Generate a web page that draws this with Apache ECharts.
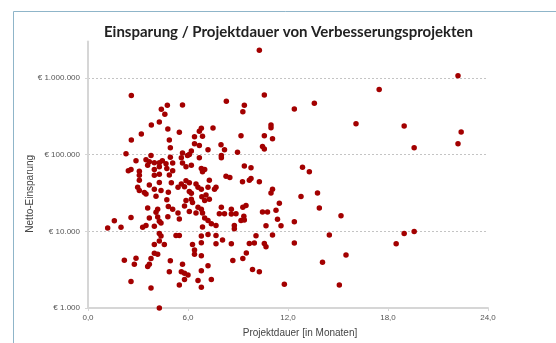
<!DOCTYPE html>
<html>
<head>
<meta charset="utf-8">
<script src="https://cdn.jsdelivr.net/npm/echarts@6/dist/echarts.min.js"></script>
<style>
  html, body { margin: 0; padding: 0; background: #ffffff; }
  #chart { width: 556px; height: 343px; }
</style>
</head>
<body>
<div id="chart"></div>
<script>
// Projektdauer in Monaten je Verbesserungsprojekt
const dauerMonate = [
  10.28, 22.2, 17.47, 2.6, 10.58, 8.3, 9.38, 4.76, 5.67, 13.58,
  12.38, 9.29, 4.4, 4.61, 4.28, 3.8, 16.08, 18.97, 10.98, 10.98,
  4.79, 3.2, 5.48, 6.8, 6.68, 7.5, 22.39, 2.6, 4.88, 6.39,
  6.87, 9.18, 10.58, 11.07, 22.2, 19.57, 6.39, 6.68, 7.98, 4.94,
  10.47, 10.58, 8.97, 7.2, 8.19, 5.67, 6.2, 6.08, 5.97, 2.28,
  3.78, 8.0, 8.0, 4.94, 5.6, 6.68, 2.88, 3.48, 3.68, 3.98,
  4.28, 4.46, 4.68, 3.58, 5.08, 5.67, 6.2, 9.38, 9.78, 12.87,
  13.28, 4.28, 2.58, 2.42, 3.08, 3.98, 4.73, 5.88, 6.8, 7.0,
  5.08, 6.87, 3.08, 3.98, 4.28, 4.88, 3.08, 4.28, 7.28, 8.28,
  8.51, 9.27, 9.68, 9.78, 10.28, 5.0, 5.88, 6.08, 5.6, 3.68,
  2.98, 5.4, 5.79, 6.48, 6.6, 6.8, 7.2, 7.68, 7.59, 3.08,
  3.38, 3.98, 4.38, 4.82, 6.08, 6.2, 4.08, 6.83, 7.08, 11.07,
  10.98, 13.77, 12.78, 3.48, 4.73, 5.88, 6.2, 6.27, 7.0, 7.28,
  11.48, 3.58, 4.18, 4.08, 4.82, 5.08, 5.4, 5.48, 5.79, 6.08,
  6.6, 6.48, 6.8, 6.87, 7.0, 7.2, 7.4, 7.68, 6.87, 8.0,
  7.88, 8.19, 8.6, 8.6, 8.88, 9.29, 9.48, 9.35, 9.18, 9.38,
  8.78, 8.78, 4.79, 2.58, 3.68, 4.18, 4.28, 1.58, 1.98, 1.18,
  3.28, 3.48, 3.98, 4.38, 4.28, 4.38, 4.28, 3.98, 4.58, 10.47,
  10.77, 11.28, 13.88, 15.18, 11.37, 12.38, 10.68, 11.58, 14.48, 10.08,
  11.07, 5.28, 5.48, 6.8, 7.2, 7.68, 6.8, 6.27, 7.68, 8.07,
  8.6, 9.68, 9.98, 10.58, 10.68, 12.38, 15.48, 19.57, 18.97, 18.49,
  6.39, 6.39, 6.8, 9.5, 9.29, 8.69, 3.98, 4.18, 3.78, 2.88,
  2.18, 2.78, 3.68, 3.58, 4.94, 5.67, 7.2, 14.07, 4.88, 5.6,
  5.79, 6.0, 6.8, 9.87, 10.28, 5.79, 6.6, 7.4, 2.58, 5.48,
  6.8, 3.78, 11.78, 15.08, 4.28
];

// Netto-Einsparung in Euro, gleiche Reihenfolge wie dauerMonate
const nettoEinsparung = [
  2310000, 1070000, 711000, 594000, 600000, 498000, 442000, 442000, 446000, 469000,
  396000, 364000, 392000, 338000, 267000, 244000, 253000, 237000, 244000, 225000,
  216000, 187000, 196000, 221000, 202000, 223000, 198000, 156000, 156000, 172000,
  174000, 177000, 177000, 161000, 139000, 123000, 139000, 132000, 135000, 123000,
  128000, 119000, 108000, 116000, 116000, 105000, 112000, 101000, 98000, 103000,
  98000, 98000, 91500, 93000, 91500, 91500, 83700, 86200, 81200, 78800,
  78800, 83700, 76500, 72800, 78100, 78100, 72800, 71100, 67600, 68400,
  59800, 69400, 64000, 61600, 60900, 64000, 66000, 69400, 66000, 64000,
  61600, 59800, 54100, 54100, 55700, 54400, 46600, 43500, 46600, 52500,
  50500, 44400, 46600, 49000, 44400, 43100, 45800, 43100, 41400, 40200,
  37500, 37500, 38300, 41400, 37500, 35300, 37500, 37500, 35300, 34000,
  32100, 35300, 34000, 32400, 33000, 31400, 28700, 28300, 29900, 35500,
  31600, 31600, 28500, 30700, 25900, 25300, 26300, 23800, 25300, 26300,
  23300, 20100, 19500, 17700, 21100, 19500, 17300, 14500, 21500, 18200,
  20700, 17300, 19500, 17300, 14900, 13900, 12600, 11900, 11400, 20700,
  17000, 17000, 19500, 16800, 17000, 20700, 21800, 15800, 13900, 14100,
  11900, 10800, 15500, 15200, 14900, 15400, 13500, 13800, 11300, 11100,
  11300, 11900, 11700, 12900, 9370, 8670, 7480, 6760, 6760, 17900,
  17900, 18800, 20100, 16000, 14400, 13300, 11800, 11800, 8930, 8750,
  8930, 8830, 8830, 8670, 9100, 8830, 7110, 6760, 6900, 7700,
  6900, 6960, 7040, 6960, 6310, 7040, 4930, 9940, 9370, 6900,
  5720, 5010, 4790, 5200, 4420, 4160, 5170, 5010, 4420, 4460,
  4200, 3730, 3730, 3480, 4120, 3730, 3560, 3960, 2980, 2980,
  2850, 2690, 3060, 3190, 2980, 2350, 2280, 2350, 2210, 2000,
  1870, 1830, 2040, 2000, 1000
];

// Achsenbereiche und Beschriftungen
const xTicks = [0, 6, 12, 18, 24];
const yTicks = [1000, 10000, 100000, 1000000];
const yMax = 3000000;

const punkte = dauerMonate.map((m, i) => [m, nettoEinsparung[i]]);

function tausender(v) {
  return String(Math.round(v)).replace(/\B(?=(\d{3})+(?!\d))/g, '.');
}

const chart = echarts.init(document.getElementById('chart'), null, { renderer: 'canvas' });

chart.setOption({
  backgroundColor: '#ffffff',
  animation: false,
  title: {
    text: 'Einsparung / Projektdauer von Verbesserungsprojekten',
    left: 283.5,
    top: 20,
    textAlign: 'center',
    textStyle: {
      fontFamily: 'Lato',
      fontWeight: 'bold',
      fontSize: 15,
      color: '#222222'
    }
  },
  graphic: [{
    type: 'rect',
    shape: { x: 13.5, y: 11.5, width: 700, height: 500 },
    style: { fill: 'none', stroke: '#8fb5c9', lineWidth: 1 },
    silent: true,
    z: -1
  }],
  grid: { left: 88, right: 68, top: 41.5, bottom: 32 },
  xAxis: {
    type: 'value',
    min: xTicks[0],
    max: xTicks[xTicks.length - 1],
    interval: 6,
    name: 'Projektdauer [in Monaten]',
    nameLocation: 'middle',
    nameGap: 20,
    nameMoveOverlap: false,
    nameTextStyle: {
      fontFamily: 'Liberation Sans',
      fontSize: 10,
      color: '#444444',
      padding: [0, 0, 0, 24]
    },
    axisLine: { show: true, lineStyle: { color: '#d6d6d6', width: 2 } },
    axisTick: { show: true, length: 3, lineStyle: { color: '#d6d6d6', width: 1 } },
    axisLabel: {
      fontFamily: 'Liberation Sans',
      fontSize: 8,
      color: '#555555',
      margin: 6,
      formatter: v => v.toFixed(1).replace('.', ',')
    },
    splitLine: { show: false }
  },
  yAxis: {
    type: 'log',
    logBase: 10,
    min: yTicks[0],
    max: yMax,
    name: 'Netto-Einsparung',
    nameLocation: 'middle',
    nameGap: 53,
    nameRotate: 90,
    nameMoveOverlap: false,
    nameTextStyle: {
      fontFamily: 'Liberation Sans',
      fontSize: 10,
      color: '#444444',
      padding: [0, 38, 0, 0]
    },
    axisLine: { show: true, lineStyle: { color: '#d6d6d6', width: 2 } },
    axisTick: { show: true, length: 3, lineStyle: { color: '#d6d6d6', width: 1 } },
    axisLabel: {
      fontFamily: 'Liberation Sans',
      fontSize: 8,
      color: '#555555',
      margin: 8,
      showMaxLabel: false,
      formatter: v => yTicks.indexOf(Math.round(v)) >= 0 ? '€ ' + tausender(v) : ''
    },
    splitLine: {
      show: true,
      showMinLine: false,
      showMaxLine: false,
      lineStyle: { color: '#c4c4c4', width: 1, type: [2, 2] }
    }
  },
  series: [{
    type: 'scatter',
    data: punkte,
    symbol: 'circle',
    symbolSize: 5.5,
    clip: false,
    itemStyle: { color: '#a30000', opacity: 1 }
  }]
});
</script>
</body>
</html>
